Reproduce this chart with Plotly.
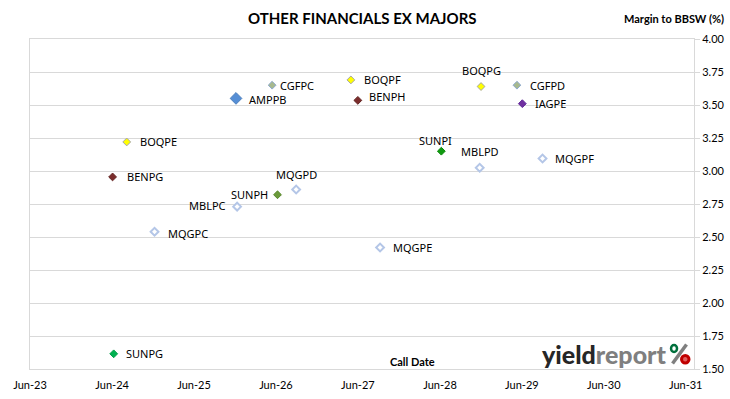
import plotly.graph_objects as go

# ---------------- data ----------------
codes = ["CGFPC", "BOQPF", "AMPPB", "BENPH", "BOQPE", "BENPG", "MQGPD", "SUNPH",
         "BOQPG", "CGFPD", "IAGPE", "SUNPI", "MBLPD", "MQGPF", "MBLPC", "MQGPC",
         "MQGPE", "SUNPG"]
call_dates = ["2026-05-15", "2027-05-01", "2025-12-05", "2027-06-01", "2024-08-05",
              "2024-06-03", "2026-08-30", "2026-06-08", "2028-12-01", "2029-05-10",
              "2029-06-03", "2028-06-07", "2028-11-25", "2029-09-01", "2025-12-10",
              "2024-12-07", "2027-09-08", "2024-06-08"]
margins = [3.65, 3.69, 3.55, 3.535, 3.22, 2.955, 2.86, 2.82,
           3.64, 3.65, 3.51, 3.15, 3.025, 3.095, 2.73, 2.54,
           2.42, 1.615]
x_tick_dates = ["2023-06-01", "2024-06-01", "2025-06-01", "2026-06-01", "2027-06-01",
                "2028-06-01", "2029-06-01", "2030-06-01", "2031-06-01"]
x_tick_labels = ["Jun-23", "Jun-24", "Jun-25", "Jun-26", "Jun-27",
                 "Jun-28", "Jun-29", "Jun-30", "Jun-31"]
y_tick_values = [1.50, 1.75, 2.00, 2.25, 2.50, 2.75, 3.00, 3.25, 3.50, 3.75, 4.00]

# ---------------- styles ----------------
W, H = 730, 399
ML, MR, MT, MB = 29.5, 35.5, 39, 29.5

hollow = dict(color="#FFFFFF", size=6, line=dict(color="#B4C6E7", width=2))
styles = {
    "CGFPC": dict(color="#A7B98E", size=6, line=dict(color="#8EAAD0", width=1)),
    "CGFPD": dict(color="#A7B98E", size=6, line=dict(color="#8EAAD0", width=1)),
    "BOQPF": dict(color="#FFFF00", size=6, line=dict(color="#A6A6A6", width=1)),
    "BOQPE": dict(color="#FFFF00", size=6, line=dict(color="#A6A6A6", width=1)),
    "BOQPG": dict(color="#FFFF00", size=6, line=dict(color="#A6A6A6", width=1)),
    "AMPPB": dict(color="#558ED5", size=9, line=dict(color="#4F81BD", width=1)),
    "BENPH": dict(color="#7B2C2C", size=6, line=dict(color="#632523", width=1)),
    "BENPG": dict(color="#7B2C2C", size=6, line=dict(color="#632523", width=1)),
    "SUNPH": dict(color="#6A9A3A", size=6, line=dict(color="#5B8A30", width=1)),
    "SUNPI": dict(color="#109A10", size=6, line=dict(color="#0A8A0A", width=1)),
    "SUNPG": dict(color="#00B050", size=6, line=dict(color="#00A048", width=1)),
    "IAGPE": dict(color="#7030A0", size=6, line=dict(color="#60289A", width=1)),
    "MQGPD": hollow, "MQGPF": hollow, "MQGPC": hollow, "MQGPE": hollow,
    "MBLPD": hollow, "MBLPC": hollow,
}
# label placement: (xanchor, xshift px, yshift px)
label_pos = {
    "CGFPC": ("left", 6, 0), "BOQPF": ("left", 11, 0), "AMPPB": ("left", 11, -1),
    "BENPH": ("left", 9, 4), "BOQPE": ("left", 11, 0), "BENPG": ("left", 12, 0),
    "MQGPD": ("center", 0, 15), "SUNPH": ("right", -8, 0), "BOQPG": ("center", 0, 16),
    "CGFPD": ("left", 11, 0), "IAGPE": ("left", 11, 0), "SUNPI": ("center", -6, 11),
    "MBLPD": ("center", 0, 16), "MQGPF": ("left", 10, 0), "MBLPC": ("right", -9, 1),
    "MQGPC": ("left", 11, -2), "MQGPE": ("left", 11, 0), "SUNPG": ("left", 10, 0),
}

fig = go.Figure()
annotations = []
for code, d, m in zip(codes, call_dates, margins):
    fig.add_trace(go.Scatter(x=[d], y=[m], mode="markers", name=code,
                             marker=dict(symbol="diamond", **styles[code]),
                             showlegend=False, hoverinfo="text", text=[code]))
    xa, xs, ys = label_pos[code]
    annotations.append(dict(x=d, y=m, xref="x", yref="y", text=code, showarrow=False,
                            xanchor=xa, yanchor="middle", xshift=xs, yshift=ys,
                            font=dict(family="Noto Sans", size=11, color="#000000")))


def px(xp):
    return (xp - ML) / (W - ML - MR)


def py(yp):
    return (H - MB - yp) / (H - MT - MB)


# titles and other text
annotations += [
    dict(x=px(363), y=py(18), xref="paper", yref="paper", text="<b>OTHER FINANCIALS EX MAJORS</b>",
         showarrow=False, xanchor="center", yanchor="middle",
         font=dict(family="Lato", size=15, color="#000000")),
    dict(x=px(727), y=py(18), xref="paper", yref="paper", text="<b>Margin to BBSW (%)</b>",
         showarrow=False, xanchor="right", yanchor="middle",
         font=dict(family="Lato", size=11, color="#000000")),
    dict(x=px(413), y=py(362), xref="paper", yref="paper", text="<b>Call Date</b>",
         showarrow=False, xanchor="center", yanchor="middle",
         font=dict(family="Lato", size=11, color="#000000")),
    dict(x=px(540), y=py(354), xref="paper", yref="paper",
         text="<span style='color:#262626'>yield</span><span style='color:#7F7F7F'>report</span>",
         showarrow=False, xanchor="left", yanchor="middle",
         font=dict(family="Lato", size=25, color="#262626", weight=900)),
]

shapes = [
    dict(type="line", xref="paper", yref="paper", x0=px(687), y0=py(345), x1=px(673), y1=py(364),
         line=dict(color="#7F7F7F", width=3.5)),
    dict(type="circle", xref="paper", yref="paper", x0=px(671.5), y0=py(345.5), x1=px(677.5), y1=py(352.5),
         line=dict(color="#00703C", width=2.5), fillcolor="rgba(0,0,0,0)"),
    dict(type="circle", xref="paper", yref="paper", x0=px(682), y0=py(356), x1=px(689.5), y1=py(363.5),
         line=dict(color="#C00000", width=3), fillcolor="#E06060"),
]

fig.update_layout(
    width=W, height=H,
    margin=dict(l=ML, r=MR, t=MT, b=MB, autoexpand=False),
    paper_bgcolor="#FFFFFF", plot_bgcolor="#FFFFFF",
    annotations=annotations, shapes=shapes,
    xaxis=dict(type="date", range=["2023-06-01", "2031-07-08"],
               tickvals=x_tick_dates, ticktext=x_tick_labels,
               showgrid=False, zeroline=False, showline=True, mirror=True,
               linecolor="#D9D9D9", linewidth=1, ticks="", ticklabelstandoff=6,
               tickfont=dict(family="Lato", size=11, color="#000000"), automargin=False),
    yaxis=dict(range=[1.5, 4.0], tickvals=y_tick_values, tickformat=".2f",
               side="right", showgrid=True, gridcolor="#D9D9D9", gridwidth=1,
               zeroline=False, showline=True, mirror=True, linecolor="#D9D9D9",
               ticks="outside", ticklen=5, tickcolor="#D9D9D9",
               tickfont=dict(family="Lato", size=11, color="#000000"), automargin=False),
)

fig.write_html("out.html", config={"displayModeBar": False},
               post_script="document.body.style.margin='0';document.body.style.overflow='hidden';")
